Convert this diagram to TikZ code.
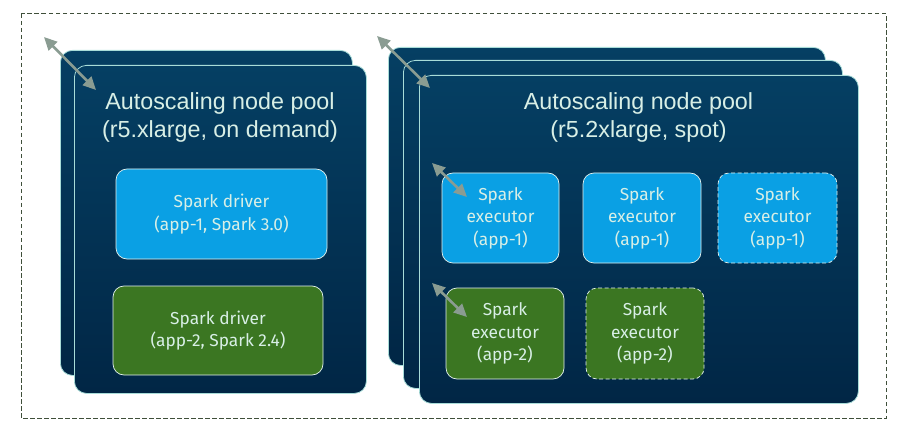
\documentclass[tikz,border=0pt]{standalone}
\usepackage{fontspec}
\setmainfont{Liberation Sans}
\newfontfamily\firafont{Fira Sans}
\usetikzlibrary{arrows.meta}
\definecolor{navytop}{HTML}{053F63}
\definecolor{navybot}{HTML}{012645}
\definecolor{cardedge}{HTML}{A8DCD8}
\definecolor{pale}{HTML}{D8EFE6}
\definecolor{sparkblue}{HTML}{0AA0E4}
\definecolor{sparkgreen}{HTML}{3B7622}
\definecolor{arrowgrey}{HTML}{8A9C92}
\definecolor{framecol}{HTML}{3F4F3A}
\definecolor{boxedge}{HTML}{E4F2EE}
\tikzset{
  card/.style={draw=cardedge, line width=0.8pt, rounded corners=12pt,
    top color=navytop, bottom color=navybot, anchor=north west, inner sep=0pt},
  pooltitle/.style={text=pale, align=center, font=\fontsize{23.3}{28}\selectfont},
  sparkbox/.style={draw=boxedge, line width=0.7pt, rounded corners=11pt,
    text=pale, align=center, inner sep=0pt,
    font=\firafont\fontsize{17.3}{22.5}\selectfont},
  bluebox/.style={sparkbox, fill=sparkblue},
  greenbox/.style={sparkbox, fill=sparkgreen},
  dblarrow/.style={draw=arrowgrey, line width=2.6pt,
    {Triangle[length=13pt,width=12pt]}-{Triangle[length=13pt,width=12pt]}},
  framebox/.style={draw=framecol, line width=1pt, dash pattern=on 4.5pt off 2.5pt}
}
\begin{document}
\begin{tikzpicture}[x=1pt,y=-1pt]
\useasboundingbox (0,0) rectangle (904,438);
% outer frame
\draw[framebox] (21,14) rectangle (886,418);
% left pool
\node[card, minimum width=292pt, minimum height=325pt] (lback) at (60,50) {};
\node[card, minimum width=292pt, minimum height=328pt] (lfront) at (74,65) {};
\node[pooltitle] (ltitle) at (220,117) {Autoscaling node pool\\(r5.xlarge, on demand)};
\node[bluebox, minimum width=211pt, minimum height=90pt] (drv1) at (221.5,214) {Spark driver\\(app-1, Spark 3.0)};
\node[greenbox, minimum width=210pt, minimum height=89pt] (drv2) at (218,330.5) {Spark driver\\(app-2, Spark 2.4)};
% right pool
\node[card, minimum width=437pt, minimum height=318pt] (rback) at (388,47) {};
\node[card, minimum width=439pt, minimum height=328pt] (rmid) at (403,60) {};
\node[card, minimum width=439pt, minimum height=328pt] (rfront) at (419,75) {};
\node[pooltitle] (rtitle) at (638.5,117) {Autoscaling node pool\\(r5.2xlarge, spot)};
\node[bluebox, minimum width=117pt, minimum height=90pt] (exA) at (500.5,218) {Spark\\executor\\(app-1)};
\node[bluebox, minimum width=118pt, minimum height=90pt] (exB) at (642,218) {Spark\\executor\\(app-1)};
\node[bluebox, dash pattern=on 4pt off 2.5pt, minimum width=119pt, minimum height=90pt] (exC) at (777.5,218) {Spark\\executor\\(app-1)};
\node[greenbox, minimum width=118pt, minimum height=91pt] (exD) at (505,333.5) {Spark\\executor\\(app-2)};
\node[greenbox, dash pattern=on 4pt off 2.5pt, minimum width=118pt, minimum height=91pt] (exE) at (645,333.5) {Spark\\executor\\(app-2)};
% scaling arrows
\coordinate (la1) at (44,37);
\coordinate (la2) at (96,90);
\coordinate (ra1) at (377,36);
\coordinate (ra2) at (430,88);
\coordinate (ea1) at (432,163);
\coordinate (ea2) at (467,197);
\coordinate (eb1) at (432,283);
\coordinate (eb2) at (467,317);
\draw[dblarrow] (la1) -- (la2);
\draw[dblarrow] (ra1) -- (ra2);
\draw[dblarrow] (ea1) -- (ea2);
\draw[dblarrow] (eb1) -- (eb2);
\end{tikzpicture}
\end{document}
